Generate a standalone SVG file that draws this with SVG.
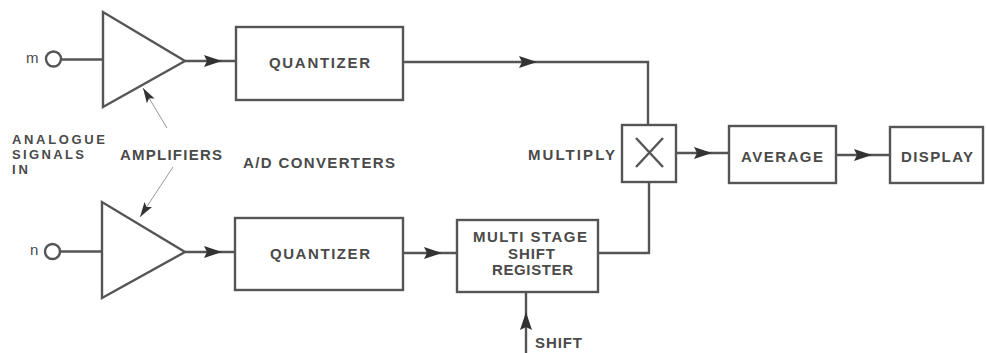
<svg xmlns="http://www.w3.org/2000/svg" xmlns:xlink="http://www.w3.org/1999/xlink" width="986" height="353" viewBox="0 0 986 353">
<style>
.s{fill:none;stroke:#555;stroke-width:2.4;stroke-linejoin:miter}
.thin{fill:none;stroke:#999;stroke-width:1}
.t{font-family:"Liberation Sans",Arial,sans-serif;font-weight:bold;font-size:15px;fill:#4a4a4a}
.sm{font-size:13px}
.ah{fill:#333}
</style>
<defs>
<path id="ah" d="M0,0 L-18,-6 L-15,0 L-18,6 Z"/>
<path id="ahs" d="M0,0 L-15,-4.5 L-12,0 L-15,4.5 Z"/>
</defs>
<rect width="986" height="353" fill="#fff"/>

<g id="connectors">
  <line class="s" x1="61" y1="59.5" x2="103" y2="59.5"/>
  <line class="s" x1="185" y1="61" x2="236" y2="61"/>
  <use href="#ah" class="ah" transform="translate(222,61)"/>
  <polyline class="s" points="403,62 648,62 648,125"/>
  <use href="#ah" class="ah" transform="translate(537,62)"/>
  <line class="s" x1="60" y1="251.5" x2="102" y2="251.5"/>
  <line class="s" x1="185" y1="252" x2="235" y2="252"/>
  <use href="#ah" class="ah" transform="translate(222,252)"/>
  <line class="s" x1="403" y1="253" x2="457" y2="253"/>
  <use href="#ah" class="ah" transform="translate(442,253)"/>
  <polyline class="s" points="598,253 649,253 649,182"/>
  <line class="s" x1="676" y1="153" x2="729" y2="153"/>
  <use href="#ah" class="ah" transform="translate(712,153)"/>
  <line class="s" x1="836" y1="155" x2="890" y2="155"/>
  <use href="#ah" class="ah" transform="translate(872,155)"/>
  <line class="s" x1="526" y1="353" x2="526" y2="292"/>
  <use href="#ah" class="ah" transform="translate(526,312) rotate(-90)"/>
  <line class="thin" x1="167" y1="128" x2="143" y2="88"/>
  <use href="#ahs" class="ah" transform="translate(143,88) rotate(-121)"/>
  <line class="thin" x1="173" y1="167" x2="140" y2="217"/>
  <use href="#ahs" class="ah" transform="translate(140,217) rotate(123.4)"/>
</g>

<g id="input-m">
  <circle class="s" cx="53.5" cy="59" r="7.5"/>
  <text class="t" x="26" y="63" style="font-weight:normal;font-size:15px">m</text>
</g>
<g id="input-n">
  <circle class="s" cx="52.5" cy="251.5" r="7.5"/>
  <text class="t" x="30" y="255" style="font-weight:normal;font-size:15px">n</text>
</g>
<g id="amp-top">
  <polygon class="s" points="103,12 103,107 185,61"/>
</g>
<g id="amp-bottom">
  <polygon class="s" points="102,202 102,298 185,252"/>
</g>
<g id="quantizer-top">
  <rect class="s" x="236" y="27" width="167" height="73"/>
  <text class="t" x="269" y="68" textLength="101" lengthAdjust="spacing">QUANTIZER</text>
</g>
<g id="quantizer-bottom">
  <rect class="s" x="235" y="218" width="168" height="72"/>
  <text class="t" x="270" y="259" textLength="100" lengthAdjust="spacing">QUANTIZER</text>
</g>
<g id="shift-register">
  <rect class="s" x="457" y="220" width="141" height="72"/>
  <text class="t" x="473" y="242" textLength="114" lengthAdjust="spacing">MULTI STAGE</text>
  <text class="t" x="508" y="259" textLength="47" lengthAdjust="spacing">SHIFT</text>
  <text class="t" x="492" y="275" textLength="81" lengthAdjust="spacing">REGISTER</text>
</g>
<g id="multiply">
  <rect class="s" x="622" y="125" width="54" height="57"/>
  <line class="s" x1="636" y1="138" x2="663" y2="167"/>
  <line class="s" x1="663" y1="138" x2="636" y2="167"/>
</g>
<g id="average">
  <rect class="s" x="729" y="126" width="107" height="57"/>
  <text class="t" x="741" y="162" textLength="82" lengthAdjust="spacing">AVERAGE</text>
</g>
<g id="display">
  <rect class="s" x="890" y="127" width="93" height="56"/>
  <text class="t" x="901" y="162" textLength="72" lengthAdjust="spacing">DISPLAY</text>
</g>
<g id="labels">
  <text class="t sm" x="12" y="144" textLength="93" lengthAdjust="spacing">ANALOGUE</text>
  <text class="t sm" x="12" y="159" textLength="72" lengthAdjust="spacing">SIGNALS</text>
  <text class="t sm" x="12" y="174" textLength="16" lengthAdjust="spacing">IN</text>
  <text class="t" x="120" y="160" textLength="102" lengthAdjust="spacing">AMPLIFIERS</text>
  <text class="t" x="243" y="168" textLength="152" lengthAdjust="spacing">A/D CONVERTERS</text>
  <text class="t" x="528" y="160" textLength="87" lengthAdjust="spacing">MULTIPLY</text>
  <text class="t" x="535" y="348" textLength="47" lengthAdjust="spacing">SHIFT</text>
</g>
</svg>
